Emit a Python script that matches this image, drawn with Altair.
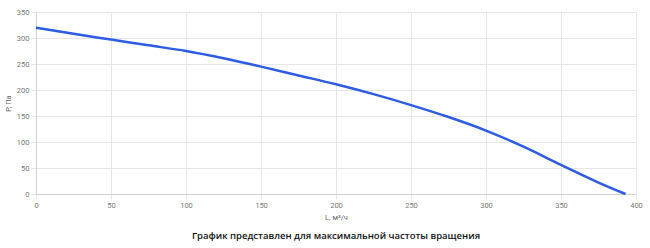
import altair as alt
import pandas as pd

flow = [0, 25, 50, 75, 100, 125, 150, 175, 200, 225, 250, 275, 300, 325, 350, 375, 393]
pressure = [320, 308, 297, 286, 275, 261, 245, 228, 211, 192, 171, 148, 122, 91, 56, 22, 0]

df = pd.DataFrame({"L": flow, "P": pressure})

line = alt.Chart(df).mark_line(color="#2d5be3", strokeWidth=2.5, interpolate="monotone").encode(
    x=alt.X("L:Q", scale=alt.Scale(domain=[0, 400], nice=False),
            axis=alt.Axis(title="L, м³/ч", values=list(range(0, 401, 50)))),
    y=alt.Y("P:Q", scale=alt.Scale(domain=[0, 350], nice=False),
            axis=alt.Axis(title="P, Па", values=list(range(0, 351, 50)))),
)

chart = line.properties(
    width=600, height=182,
    autosize=alt.AutoSizeParams(type="none"),
    padding={"left": 36, "top": 12, "right": 14, "bottom": 54},
    title=alt.TitleParams(
        "График представлен для максимальной частоты вращения",
        orient="bottom", anchor="middle", font="Open Sans", fontSize=9.5,
        fontWeight=600, color="#111", offset=10,
    ),
).configure_view(stroke=None).configure_axis(
    labelFont="Roboto", labelFontSize=7.5, labelColor="#777", labelFlush=False,
    titleFont="Roboto", titleFontSize=7.5, titleColor="#666", titleFontWeight="normal",
    gridColor="#e6e6e6", domainColor="#d0d0d0", tickColor="#e6e6e6",
    tickSize=5, labelPadding=2,
).configure_axisY(titlePadding=4).configure_axisX(titlePadding=5)

chart.save("out.html", embed_options={"renderer": "svg", "actions": False})
